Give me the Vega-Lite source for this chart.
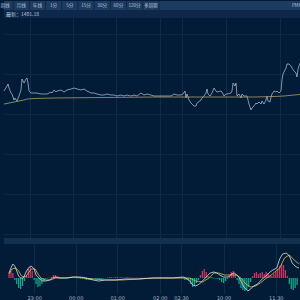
{
  "$schema": "https://vega.github.io/schema/vega-lite/v6.json",
  "background": "#021c38",
  "padding": 0,
  "spacing": 0,
  "bounds": "flush",
  "config": {
    "view": {"stroke": null},
    "font": "Noto Sans CJK SC",
    "text": {"font": "Noto Sans CJK SC"}
  },
  "datasets": {
    "tabs": [
      {"i": 0, "t": "周线"}, {"i": 1, "t": "月线"}, {"i": 2, "t": "年线"}, {"i": 3, "t": "1分"},
      {"i": 4, "t": "5分"}, {"i": 5, "t": "15分"}, {"i": 6, "t": "30分"}, {"i": 7, "t": "60分"},
      {"i": 8, "t": "120分"}, {"i": 9, "t": "多周期"}, {"i": 18, "t": "PMX"}
    ],
    "price": [
      {"x":0,"p":30},{"x":3,"p":35},{"x":4,"p":37},{"x":5,"p":33},{"x":7,"p":28},{"x":8,"p":27},{"x":10,"p":21},{"x":11,"p":23},{"x":13,"p":20},{"x":15,"p":25},{"x":17,"p":31},{"x":18,"p":42},{"x":20,"p":38},{"x":22,"p":42},{"x":23,"p":43},{"x":24,"p":38},{"x":25,"p":30},{"x":27,"p":28},{"x":30,"p":28},{"x":33,"p":28},{"x":37,"p":27},{"x":40,"p":27},{"x":43,"p":27},{"x":45,"p":28},{"x":47,"p":29},{"x":48,"p":28},{"x":50,"p":31},{"x":52,"p":29},{"x":53,"p":30},{"x":57,"p":31},{"x":60,"p":29},{"x":63,"p":31},{"x":67,"p":32},{"x":70,"p":33},{"x":73,"p":32},{"x":77,"p":31},{"x":80,"p":32},{"x":83,"p":30},{"x":87,"p":28},{"x":90,"p":28},{"x":93,"p":27},{"x":97,"p":26},{"x":100,"p":26},{"x":103,"p":27},{"x":107,"p":26},{"x":110,"p":26},{"x":113,"p":25},{"x":117,"p":26},{"x":120,"p":25},{"x":123,"p":26},{"x":127,"p":25},{"x":130,"p":26},{"x":133,"p":25},{"x":137,"p":28},{"x":140,"p":26},{"x":143,"p":27},{"x":147,"p":26},{"x":150,"p":25},{"x":160,"p":25},{"x":167,"p":25},{"x":170,"p":27},{"x":173,"p":26},{"x":177,"p":26},{"x":179,"p":27},{"x":181,"p":30},{"x":182,"p":23},{"x":183,"p":27},{"x":185,"p":21},{"x":187,"p":18},{"x":188,"p":17},{"x":190,"p":15},{"x":192,"p":15},{"x":193,"p":18},{"x":197,"p":21},{"x":198,"p":23},{"x":200,"p":25},{"x":202,"p":28},{"x":203,"p":32},{"x":204,"p":27},{"x":206,"p":25},{"x":208,"p":28},{"x":210,"p":33},{"x":212,"p":30},{"x":213,"p":29},{"x":217,"p":30},{"x":218,"p":29},{"x":220,"p":25},{"x":222,"p":27},{"x":223,"p":27},{"x":227,"p":28},{"x":228,"p":30},{"x":229,"p":38},{"x":231,"p":35},{"x":232,"p":38},{"x":233,"p":25},{"x":235,"p":27},{"x":237,"p":23},{"x":238,"p":27},{"x":240,"p":25},{"x":243,"p":25},{"x":244,"p":21},{"x":245,"p":17},{"x":247,"p":11},{"x":248,"p":13},{"x":250,"p":15},{"x":252,"p":18},{"x":253,"p":17},{"x":255,"p":19},{"x":257,"p":17},{"x":258,"p":20},{"x":260,"p":17},{"x":262,"p":21},{"x":263,"p":25},{"x":264,"p":20},{"x":266,"p":19},{"x":267,"p":24},{"x":268,"p":27},{"x":270,"p":30},{"x":272,"p":29},{"x":273,"p":30},{"x":275,"p":28},{"x":277,"p":30},{"x":278,"p":41},{"x":279,"p":47},{"x":282,"p":53},{"x":283,"p":57},{"x":285,"p":57},{"x":287,"p":55},{"x":288,"p":53},{"x":290,"p":50},{"x":292,"p":48},{"x":293,"p":44},{"x":294,"p":52},{"x":296,"p":58},{"x":298,"p":59},{"x":300,"p":59}
    ],
    "avg": [
      {"x":0,"a":17},{"x":5,"a":18},{"x":10,"a":19},{"x":15,"a":20},{"x":20,"a":21},{"x":23,"a":22},{"x":30,"a":22.5},{"x":50,"a":23},{"x":100,"a":23.5},{"x":150,"a":24},{"x":200,"a":24},{"x":250,"a":24},{"x":270,"a":24.5},{"x":280,"a":25},{"x":290,"a":26},{"x":300,"a":27}
    ],
    "dif": [
      {"x":0,"v":5},{"x":2,"v":10},{"x":4,"v":14},{"x":6,"v":12},{"x":8,"v":7},{"x":10,"v":2},{"x":12,"v":0},{"x":15,"v":0},{"x":18,"v":7},{"x":21,"v":11},{"x":23,"v":12},{"x":26,"v":9},{"x":28,"v":3},{"x":32,"v":-1},{"x":35,"v":-3},{"x":38,"v":-3},{"x":42,"v":-2},{"x":45,"v":0},{"x":48,"v":1},{"x":53,"v":0},{"x":60,"v":0},{"x":67,"v":1},{"x":73,"v":1},{"x":80,"v":0},{"x":87,"v":-2},{"x":93,"v":-3},{"x":100,"v":-2},{"x":110,"v":-2},{"x":120,"v":-1},{"x":133,"v":-1},{"x":150,"v":0},{"x":170,"v":0},{"x":180,"v":1},{"x":183,"v":0},{"x":187,"v":-3},{"x":190,"v":-7},{"x":193,"v":-8},{"x":197,"v":-6},{"x":200,"v":-3},{"x":203,"v":0},{"x":208,"v":5},{"x":212,"v":6},{"x":215,"v":5},{"x":218,"v":3},{"x":222,"v":1},{"x":227,"v":1},{"x":230,"v":4},{"x":233,"v":5},{"x":237,"v":2},{"x":240,"v":-3},{"x":243,"v":-9},{"x":247,"v":-13},{"x":250,"v":-11},{"x":253,"v":-8},{"x":257,"v":-6},{"x":260,"v":-3},{"x":263,"v":0},{"x":267,"v":3},{"x":270,"v":6},{"x":273,"v":8},{"x":277,"v":10},{"x":280,"v":19},{"x":283,"v":24},{"x":287,"v":25},{"x":290,"v":22},{"x":293,"v":15},{"x":297,"v":11},{"x":300,"v":10}
    ],
    "dea": [
      {"x":0,"v":4},{"x":3,"v":9},{"x":7,"v":10},{"x":10,"v":7},{"x":13,"v":2},{"x":17,"v":1},{"x":20,"v":5},{"x":23,"v":9},{"x":27,"v":9},{"x":30,"v":4},{"x":33,"v":0},{"x":38,"v":-2},{"x":43,"v":-2},{"x":48,"v":0},{"x":57,"v":0},{"x":67,"v":1},{"x":77,"v":0},{"x":87,"v":-1},{"x":100,"v":-2},{"x":117,"v":-2},{"x":133,"v":-1},{"x":150,"v":0},{"x":177,"v":0},{"x":187,"v":0},{"x":193,"v":-3},{"x":200,"v":-4},{"x":207,"v":0},{"x":212,"v":5},{"x":217,"v":5},{"x":223,"v":3},{"x":230,"v":3},{"x":235,"v":3},{"x":240,"v":0},{"x":245,"v":-6},{"x":250,"v":-9},{"x":255,"v":-8},{"x":260,"v":-5},{"x":265,"v":-1},{"x":270,"v":2},{"x":275,"v":6},{"x":280,"v":10},{"x":285,"v":20},{"x":290,"v":23},{"x":295,"v":18},{"x":300,"v":14}
    ],
    "hist": [
      {"x":0,"h":5},{"x":2,"h":7},{"x":4,"h":5},{"x":6,"h":-2},{"x":8,"h":-6},{"x":10,"h":-10},{"x":12,"h":-11},{"x":14,"h":-8},{"x":16,"h":-3},{"x":18,"h":3},{"x":20,"h":9},{"x":22,"h":11},{"x":24,"h":7},{"x":26,"h":-2},{"x":28,"h":-6},{"x":30,"h":-9},{"x":32,"h":-8},{"x":34,"h":-6},{"x":36,"h":-3},{"x":38,"h":-1},{"x":40,"h":-0.5},{"x":42,"h":0.5},{"x":44,"h":1},{"x":46,"h":3},{"x":48,"h":3},{"x":50,"h":2},{"x":52,"h":1},{"x":54,"h":0.5},{"x":56,"h":0.3},{"x":58,"h":-0.3},{"x":60,"h":0.3},{"x":62,"h":0.3},{"x":64,"h":0.5},{"x":66,"h":0.5},{"x":68,"h":0.3},{"x":70,"h":-0.3},{"x":72,"h":-0.3},{"x":74,"h":-0.5},{"x":76,"h":-0.5},{"x":78,"h":-1},{"x":80,"h":-2},{"x":82,"h":-2},{"x":84,"h":-2},{"x":86,"h":-1},{"x":88,"h":-0.5},{"x":90,"h":-1},{"x":92,"h":-1},{"x":94,"h":-1},{"x":96,"h":-1},{"x":98,"h":-0.5},{"x":100,"h":-0.3},{"x":102,"h":0.5},{"x":104,"h":1},{"x":106,"h":1},{"x":108,"h":0.5},{"x":110,"h":1},{"x":112,"h":1},{"x":114,"h":0.5},{"x":116,"h":1},{"x":118,"h":0.5},{"x":120,"h":0.5},{"x":122,"h":1},{"x":124,"h":0.5},{"x":126,"h":0.5},{"x":128,"h":0.3},{"x":130,"h":0.3},{"x":132,"h":0.3},{"x":134,"h":0.2},{"x":136,"h":0.2},{"x":138,"h":0.3},{"x":140,"h":0.3},{"x":142,"h":0.2},{"x":144,"h":0.2},{"x":146,"h":0.3},{"x":148,"h":0.2},{"x":150,"h":0.2},{"x":152,"h":0.3},{"x":154,"h":0.3},{"x":156,"h":0.5},{"x":158,"h":0.5},{"x":160,"h":0.3},{"x":162,"h":0.3},{"x":164,"h":0.5},{"x":166,"h":0.5},{"x":168,"h":0.5},{"x":170,"h":0.5},{"x":172,"h":1},{"x":174,"h":1},{"x":176,"h":0.5},{"x":178,"h":0.5},{"x":180,"h":-0.5},{"x":182,"h":-2},{"x":184,"h":-2},{"x":186,"h":-3},{"x":188,"h":-6},{"x":190,"h":-9},{"x":192,"h":-8},{"x":194,"h":-5},{"x":196,"h":-2},{"x":198,"h":3},{"x":200,"h":7},{"x":202,"h":9},{"x":204,"h":6},{"x":206,"h":2},{"x":208,"h":1},{"x":210,"h":1},{"x":212,"h":-0.5},{"x":214,"h":-0.5},{"x":216,"h":-1},{"x":218,"h":-2},{"x":220,"h":-4},{"x":222,"h":-5},{"x":224,"h":-3},{"x":226,"h":-1},{"x":228,"h":2},{"x":230,"h":6},{"x":232,"h":7},{"x":234,"h":4},{"x":236,"h":-2},{"x":238,"h":-6},{"x":240,"h":-10},{"x":242,"h":-12},{"x":244,"h":-13},{"x":246,"h":-12},{"x":248,"h":-9},{"x":250,"h":-4},{"x":252,"h":2},{"x":254,"h":5},{"x":256,"h":6},{"x":258,"h":4},{"x":260,"h":5},{"x":262,"h":6},{"x":264,"h":4},{"x":266,"h":6},{"x":268,"h":5},{"x":270,"h":3},{"x":272,"h":2},{"x":274,"h":4},{"x":276,"h":6},{"x":278,"h":9},{"x":280,"h":12},{"x":282,"h":14},{"x":284,"h":13},{"x":286,"h":8},{"x":288,"h":2},{"x":290,"h":-6},{"x":292,"h":-11},{"x":294,"h":-12},{"x":296,"h":-10},{"x":298,"h":-7}
    ]
  },
  "vconcat": [
    {
      "width": 300, "height": 9,
      "view": {"fill": "#1d3b60", "stroke": null},
      "data": {"name": "tabs"},
      "layer": [
        {
          "transform": [{"filter": "datum.i < 10"}],
          "mark": {"type": "rule", "color": "#0e2847", "strokeWidth": 1, "xOffset": 8.1},
          "encoding": {"x": {"field": "i", "type": "quantitative", "scale": {"domain": [-0.062, 18.457], "nice": false, "zero": false}, "axis": null}}
        },
        {
          "mark": {"type": "text", "fontSize": 4.6, "color": "#b7c4d6", "baseline": "middle"},
          "encoding": {
            "x": {"field": "i", "type": "quantitative", "scale": {"domain": [-0.062, 18.457], "nice": false, "zero": false}, "axis": null},
            "text": {"field": "t"}
          }
        }
      ]
    },
    {
      "width": 300, "height": 8,
      "view": {"fill": "#0f2849", "stroke": null},
      "data": {"values": [{"t": "最新：1401.18"}]},
      "mark": {"type": "text", "fontSize": 5, "color": "#b9c6d8", "align": "left", "baseline": "middle", "dx": 2},
      "encoding": {
        "x": {"datum": 0, "type": "quantitative", "scale": {"domain": [0, 300]}, "axis": null},
        "text": {"field": "t"}
      }
    },
    {
      "width": 300, "height": 220,
      "layer": [
        {
          "data": {"name": "price"},
          "mark": {"type": "line", "color": "#b9c5d6", "strokeWidth": 0.7},
          "encoding": {
            "x": {"field": "x", "type": "quantitative", "scale": {"domain": [0, 300], "nice": false},
                  "axis": {"values": [26, 69, 112, 156, 178, 222, 276], "labels": false, "ticks": false, "domain": false, "title": null, "grid": true, "gridColor": "#0d2c4c", "gridWidth": 1, "minExtent": 0, "maxExtent": 0}},
            "y": {"field": "p", "type": "quantitative", "scale": {"domain": [-117, 103], "nice": false, "zero": false},
                  "axis": {"values": [87, 47, 7, -33, -73, -113], "labels": false, "ticks": false, "domain": false, "title": null, "grid": true, "gridColor": "#0a2846", "gridWidth": 1, "minExtent": 0, "maxExtent": 0}}
          }
        },
        {
          "data": {"name": "avg"},
          "mark": {"type": "line", "color": "#b09a62", "strokeWidth": 0.8},
          "encoding": {
            "x": {"field": "x", "type": "quantitative"},
            "y": {"field": "a", "type": "quantitative"}
          }
        }
      ]
    },
    {
      "width": 300, "height": 6,
      "view": {"fill": "#14304f", "stroke": null},
      "data": {"values": [{"t": ""}]},
      "mark": {"type": "text"},
      "encoding": {"text": {"field": "t"}}
    },
    {
      "width": 300, "height": 49,
      "layer": [
        {
          "data": {"name": "hist"},
          "mark": {"type": "bar", "width": 1.3, "orient": "vertical"},
          "encoding": {
            "x": {"field": "x", "type": "quantitative", "scale": {"domain": [0, 300], "nice": false},
                  "axis": {"values": [26, 69, 112, 156, 178, 222, 276], "labelExpr": "datum.value == 26 ? '23:00' : datum.value == 69 ? '00:00' : datum.value == 112 ? '01:00' : datum.value == 156 ? '02:00' : datum.value == 178 ? '02:30' : datum.value == 222 ? '10:00' : '11:30'", "labelFontSize": 5, "labelColor": "#a9b6c8", "labelPadding": 2, "labelOverlap": false, "labelFlush": false, "labelFont": "DejaVu Sans", "ticks": false, "domain": false, "title": null, "grid": true, "gridColor": "#0d2c4c", "gridWidth": 1}},
            "y": {"field": "h", "type": "quantitative", "scale": {"domain": [-15, 34], "nice": false, "zero": true}, "axis": null},
            "color": {"condition": {"test": "datum.h > 0", "value": "#c9335e"}, "value": "#17a488"}
          }
        },
        {
          "data": {"name": "dea"},
          "mark": {"type": "line", "color": "#dcbb48", "strokeWidth": 0.8},
          "encoding": {
            "x": {"field": "x", "type": "quantitative"},
            "y": {"field": "v", "type": "quantitative"}
          }
        },
        {
          "data": {"name": "dif"},
          "mark": {"type": "line", "color": "#d5dde7", "strokeWidth": 0.8},
          "encoding": {
            "x": {"field": "x", "type": "quantitative"},
            "y": {"field": "v", "type": "quantitative"}
          }
        }
      ]
    }
  ]
}
